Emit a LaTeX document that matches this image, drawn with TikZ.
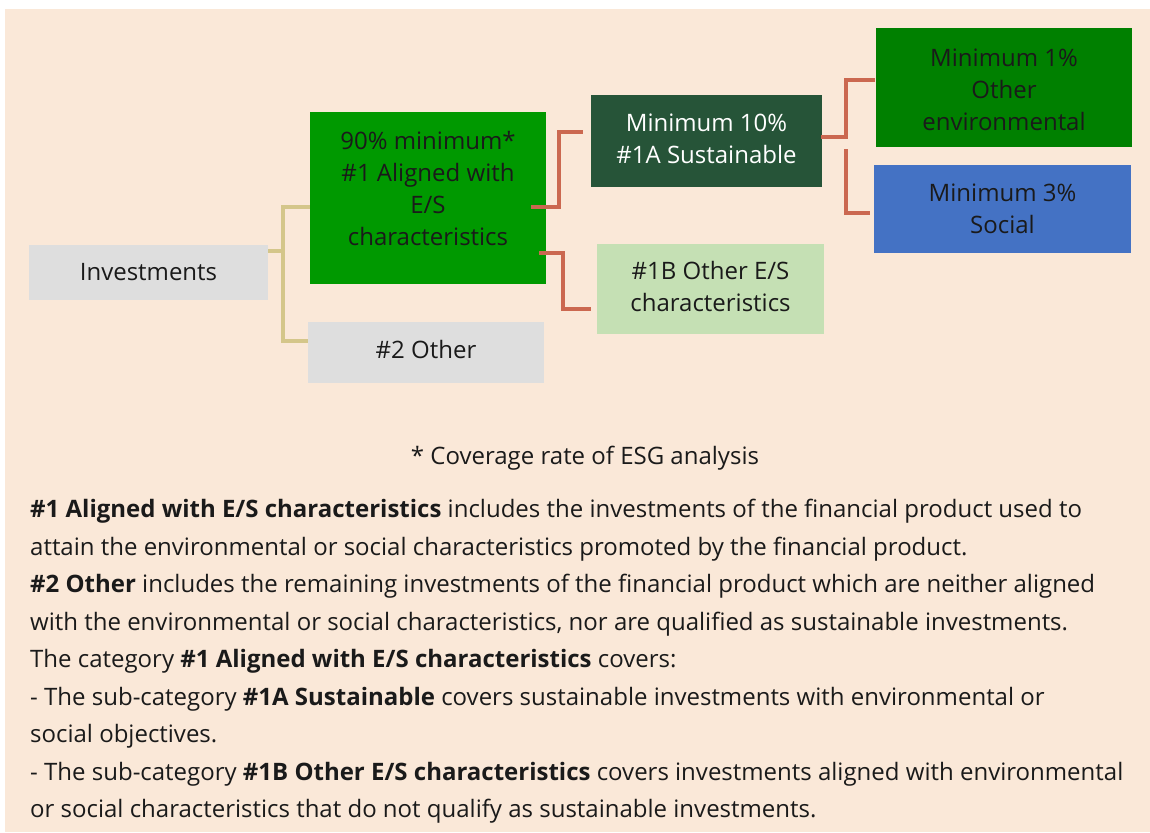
\documentclass[tikz,border=0pt]{standalone}
\usepackage{fontspec}
\setmainfont{Open Sans}
\definecolor{pagebg}{RGB}{250,232,216}
\definecolor{boxgray}{RGB}{222,222,222}
\definecolor{alignedgreen}{RGB}{0,153,0}
\definecolor{sustgreen}{RGB}{38,84,56}
\definecolor{palegreen}{RGB}{197,224,180}
\definecolor{envgreen}{RGB}{0,128,0}
\definecolor{socialblue}{RGB}{68,114,196}
\definecolor{tanline}{RGB}{212,198,138}
\definecolor{rustline}{RGB}{203,104,80}
\definecolor{inkgray}{RGB}{26,26,26}

\begin{document}
\begin{tikzpicture}[
  x=1pt, y=-1pt,
  box/.style  = {rectangle, fill=#1, inner sep=0pt, align=center,
                 font=\fontsize{24}{32}\selectfont, text=inkgray},
  link/.style = {line width=4pt, draw=#1},
  txt/.style  = {inner sep=0pt, text=inkgray},
]
\useasboundingbox (0,0) rectangle (1150,832);
\fill[pagebg] (5,9) rectangle (1150,832);

% boxes of the tree
\node[box=boxgray, minimum width=239pt, minimum height=55pt] (invest)
  at (148.5,272.5) {Investments};
\node[box=alignedgreen, minimum width=236pt, minimum height=172pt, text depth=20pt] (aligned)
  at (428,198) {90\% minimum*\\\#1 Aligned with\\E/S\\characteristics};
\node[box=boxgray, minimum width=236pt, minimum height=61pt, text depth=6pt] (other)
  at (426,352.5) {\#2 Other};
\node[box=sustgreen, text=white, minimum width=231pt, minimum height=92pt, text depth=4pt] (sust)
  at (706.5,141) {Minimum 10\%\\\#1A Sustainable};
\node[box=palegreen, minimum width=227pt, minimum height=90pt, text depth=5pt] (otheres)
  at (710.5,289) {\#1B Other E/S\\characteristics};
\node[box=envgreen, minimum width=256pt, minimum height=119pt, text height=86pt] (env)
  at (1004,87.5) {Minimum 1\%\\Other\\environmental};
\node[box=socialblue, minimum width=257pt, minimum height=88pt] (social)
  at (1002.5,208.5) {Minimum 3\%\\Social};

% connectors
\coordinate (tanbus) at ([xshift=-27pt,yshift=-9pt]aligned.west);
\draw[link=tanline] ([yshift=21.5pt]invest.east) -| (tanbus) -- ([yshift=-9pt]aligned.west);
\draw[link=tanline] (tanbus) |- ([yshift=11.5pt]other.west);
\draw[link=rustline] ([xshift=-15pt,yshift=-9pt]aligned.east)
  -| ([xshift=-32pt,yshift=9pt]sust.west) -- ([xshift=-8pt,yshift=9pt]sust.west);
\draw[link=rustline] ([xshift=-7pt,yshift=-55pt]aligned.east)
  -| ([xshift=-34pt,yshift=-20pt]otheres.west) -- ([xshift=-6pt,yshift=-20pt]otheres.west);
\draw[link=rustline] ([xshift=-1pt,yshift=4pt]sust.east)
  -| ([xshift=-30pt,yshift=7.5pt]env.west) -- ([xshift=-1pt,yshift=7.5pt]env.west);
\draw[link=rustline] ([xshift=24pt,yshift=-8pt]sust.east)
  |- ([xshift=-4pt,yshift=-4.5pt]social.west);

% footnote and legend
\node[txt, font=\fontsize{24}{32}\selectfont] (note) at (585,458)
  {* Coverage rate of ESG analysis};
\node[txt, anchor=north west, align=left, font=\fontsize{24}{37.5}\selectfont] (legend)
  at (30,499)
  {\textbf{\#1 Aligned with E/S characteristics} includes the investments of the financial product used to\\
   attain the environmental or social characteristics promoted by the financial product.\\
   \textbf{\#2 Other} includes the remaining investments of the financial product which are neither aligned\\
   with the environmental or social characteristics, nor are qualified as sustainable investments.\\
   The category \textbf{\#1 Aligned with E/S characteristics} covers:\\
   - The sub-category \textbf{\#1A Sustainable} covers sustainable investments with environmental or\\
   social objectives.\\
   - The sub-category \textbf{\#1B Other E/S characteristics} covers investments aligned with environmental\\
   or social characteristics that do not qualify as sustainable investments.};
\end{tikzpicture}
\end{document}
